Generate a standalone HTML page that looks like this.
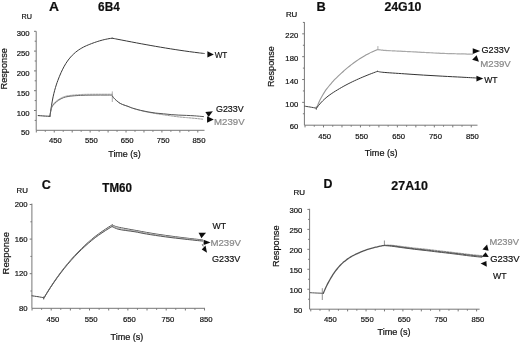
<!DOCTYPE html>
<html><head><meta charset="utf-8"><style>
html,body{margin:0;padding:0;background:#fff;}
body{width:520px;height:343px;overflow:hidden;}
svg{display:block;font-family:"Liberation Sans", sans-serif;}
</style></head><body>
<svg width="520" height="343" viewBox="0 0 520 343">
<defs><filter id="bl" x="0" y="0" width="520" height="343" filterUnits="userSpaceOnUse"><feGaussianBlur stdDeviation="0.35"/></filter></defs>
<rect width="520" height="343" fill="#fff"/>
<g filter="url(#bl)">
<line x1="36.2" y1="31.3" x2="36.2" y2="130.3" stroke="#777" stroke-width="1"/>
<line x1="36.2" y1="130.3" x2="204.5" y2="130.3" stroke="#777" stroke-width="1"/>
<line x1="34" y1="110.5" x2="36.2" y2="110.5" stroke="#777" stroke-width="1"/>
<line x1="34" y1="90.7" x2="36.2" y2="90.7" stroke="#777" stroke-width="1"/>
<line x1="34" y1="70.9" x2="36.2" y2="70.9" stroke="#777" stroke-width="1"/>
<line x1="34" y1="51.1" x2="36.2" y2="51.1" stroke="#777" stroke-width="1"/>
<line x1="34" y1="31.3" x2="36.2" y2="31.3" stroke="#777" stroke-width="1"/>
<line x1="34.7" y1="120.4" x2="36.2" y2="120.4" stroke="#777" stroke-width="1"/>
<line x1="34.7" y1="100.6" x2="36.2" y2="100.6" stroke="#777" stroke-width="1"/>
<line x1="34.7" y1="80.8" x2="36.2" y2="80.8" stroke="#777" stroke-width="1"/>
<line x1="34.7" y1="61" x2="36.2" y2="61" stroke="#777" stroke-width="1"/>
<line x1="34.7" y1="41.2" x2="36.2" y2="41.2" stroke="#777" stroke-width="1"/>
<line x1="36.3" y1="130.3" x2="36.3" y2="132.5" stroke="#777" stroke-width="1"/>
<line x1="45.28" y1="130.3" x2="45.28" y2="131.8" stroke="#777" stroke-width="1"/>
<line x1="54.25" y1="130.3" x2="54.25" y2="132.5" stroke="#777" stroke-width="1"/>
<line x1="63.22" y1="130.3" x2="63.22" y2="131.8" stroke="#777" stroke-width="1"/>
<line x1="72.19" y1="130.3" x2="72.19" y2="132.5" stroke="#777" stroke-width="1"/>
<line x1="81.17" y1="130.3" x2="81.17" y2="131.8" stroke="#777" stroke-width="1"/>
<line x1="90.14" y1="130.3" x2="90.14" y2="132.5" stroke="#777" stroke-width="1"/>
<line x1="99.11" y1="130.3" x2="99.11" y2="131.8" stroke="#777" stroke-width="1"/>
<line x1="108.09" y1="130.3" x2="108.09" y2="132.5" stroke="#777" stroke-width="1"/>
<line x1="117.06" y1="130.3" x2="117.06" y2="131.8" stroke="#777" stroke-width="1"/>
<line x1="126.03" y1="130.3" x2="126.03" y2="132.5" stroke="#777" stroke-width="1"/>
<line x1="135" y1="130.3" x2="135" y2="131.8" stroke="#777" stroke-width="1"/>
<line x1="143.97" y1="130.3" x2="143.97" y2="132.5" stroke="#777" stroke-width="1"/>
<line x1="152.95" y1="130.3" x2="152.95" y2="131.8" stroke="#777" stroke-width="1"/>
<line x1="161.92" y1="130.3" x2="161.92" y2="132.5" stroke="#777" stroke-width="1"/>
<line x1="170.89" y1="130.3" x2="170.89" y2="131.8" stroke="#777" stroke-width="1"/>
<line x1="179.87" y1="130.3" x2="179.87" y2="132.5" stroke="#777" stroke-width="1"/>
<line x1="188.84" y1="130.3" x2="188.84" y2="131.8" stroke="#777" stroke-width="1"/>
<line x1="197.81" y1="130.3" x2="197.81" y2="132.5" stroke="#777" stroke-width="1"/>
<text x="29.6" y="135.46" font-size="7.7" text-anchor="end" font-weight="normal" fill="#111" stroke="#111" stroke-width="0.2" >50</text>
<text x="29.6" y="115.66" font-size="7.7" text-anchor="end" font-weight="normal" fill="#111" stroke="#111" stroke-width="0.2" >100</text>
<text x="29.6" y="95.86" font-size="7.7" text-anchor="end" font-weight="normal" fill="#111" stroke="#111" stroke-width="0.2" >150</text>
<text x="29.6" y="76.06" font-size="7.7" text-anchor="end" font-weight="normal" fill="#111" stroke="#111" stroke-width="0.2" >200</text>
<text x="29.6" y="56.26" font-size="7.7" text-anchor="end" font-weight="normal" fill="#111" stroke="#111" stroke-width="0.2" >250</text>
<text x="29.6" y="36.46" font-size="7.7" text-anchor="end" font-weight="normal" fill="#111" stroke="#111" stroke-width="0.2" >300</text>
<text x="55.45" y="142.6" font-size="7.7" text-anchor="middle" font-weight="normal" fill="#111" stroke="#111" stroke-width="0.2" >450</text>
<text x="91.34" y="142.6" font-size="7.7" text-anchor="middle" font-weight="normal" fill="#111" stroke="#111" stroke-width="0.2" >550</text>
<text x="127.23" y="142.6" font-size="7.7" text-anchor="middle" font-weight="normal" fill="#111" stroke="#111" stroke-width="0.2" >650</text>
<text x="163.12" y="142.6" font-size="7.7" text-anchor="middle" font-weight="normal" fill="#111" stroke="#111" stroke-width="0.2" >750</text>
<text x="199.01" y="142.6" font-size="7.7" text-anchor="middle" font-weight="normal" fill="#111" stroke="#111" stroke-width="0.2" >850</text>
<text x="48.9" y="11.4" font-size="13.3" font-weight="bold" fill="#111" textLength="10.01" lengthAdjust="spacingAndGlyphs" stroke="#111" stroke-width="0.2">A</text>
<text x="98.12" y="10.88" font-size="12" font-weight="bold" fill="#111" textLength="21.7" lengthAdjust="spacingAndGlyphs" stroke="#111" stroke-width="0.2">6B4</text>
<text x="21.56" y="18.98" font-size="7" font-weight="normal" fill="#111" textLength="10.45" lengthAdjust="spacingAndGlyphs" stroke="#111" stroke-width="0.2">RU</text>
<text x="0" y="0" font-size="9.3" fill="#111" textLength="41.46" lengthAdjust="spacingAndGlyphs" transform="translate(7.35 89.51) rotate(-90)" stroke="#111" stroke-width="0.2">Response</text>
<text x="108.25" y="156.64" font-size="9" font-weight="normal" fill="#111" textLength="32.45" lengthAdjust="spacingAndGlyphs" stroke="#111" stroke-width="0.2">Time (s)</text>
<path d="M38.2,115.6 C39.17,115.67 42.05,115.88 44,116 C45.95,116.12 48.92,116.25 49.9,116.3" fill="none" stroke="#333" stroke-width="1" stroke-linejoin="round" stroke-linecap="round" />
<path d="M49.9,116.3 C50.17,114.54 50.96,108.96 51.5,105.73 C52.03,102.49 52.56,99.45 53.09,96.88 C53.63,94.3 54.16,92.27 54.69,90.28 C55.22,88.29 55.76,86.56 56.29,84.91 C56.82,83.26 57.35,81.8 57.89,80.37 C58.42,78.93 58.95,77.59 59.48,76.29 C60.02,74.99 60.55,73.75 61.08,72.57 C61.61,71.39 62.15,70.27 62.68,69.2 C63.21,68.14 63.74,67.13 64.28,66.17 C64.81,65.22 65.34,64.32 65.87,63.47 C66.41,62.62 66.94,61.83 67.47,61.07 C68,60.31 68.54,59.61 69.07,58.93 C69.6,58.26 70.13,57.63 70.67,57.03 C71.2,56.42 71.73,55.86 72.26,55.31 C72.8,54.77 73.33,54.26 73.86,53.77 C74.39,53.27 74.93,52.81 75.46,52.36 C75.99,51.92 76.52,51.5 77.06,51.1 C77.59,50.69 78.12,50.31 78.65,49.95 C79.19,49.58 79.72,49.24 80.25,48.91 C80.78,48.58 81.32,48.27 81.85,47.97 C82.38,47.67 82.91,47.38 83.45,47.11 C83.98,46.83 84.51,46.57 85.04,46.32 C85.58,46.07 86.11,45.83 86.64,45.59 C87.17,45.36 87.71,45.14 88.24,44.92 C88.77,44.69 89.3,44.48 89.84,44.27 C90.37,44.06 90.9,43.85 91.43,43.65 C91.97,43.45 92.5,43.25 93.03,43.05 C93.56,42.86 94.1,42.67 94.63,42.48 C95.16,42.29 95.69,42.11 96.23,41.93 C96.76,41.75 97.29,41.58 97.82,41.41 C98.36,41.24 98.89,41.08 99.42,40.92 C99.95,40.76 100.49,40.61 101.02,40.46 C101.55,40.31 102.08,40.17 102.62,40.03 C103.15,39.89 103.68,39.76 104.21,39.63 C104.75,39.51 105.28,39.39 105.81,39.27 C106.34,39.16 106.88,39.05 107.41,38.94 C107.94,38.84 108.47,38.75 109.01,38.66 C109.54,38.57 110.07,38.48 110.6,38.41 C111.14,38.33 111.93,38.23 112.2,38.2" fill="none" stroke="#383838" stroke-width="1" stroke-linejoin="round" stroke-linecap="round" />
<path d="M112.2,38.2 C113.01,38.36 115.43,38.83 117.04,39.15 C118.66,39.46 120.27,39.78 121.88,40.09 C123.5,40.41 125.11,40.72 126.73,41.03 C128.34,41.34 129.95,41.65 131.57,41.95 C133.18,42.26 134.8,42.56 136.41,42.87 C138.02,43.17 139.64,43.47 141.25,43.77 C142.87,44.07 144.48,44.36 146.09,44.65 C147.71,44.95 149.32,45.24 150.94,45.52 C152.55,45.81 154.16,46.09 155.78,46.37 C157.39,46.65 159.01,46.93 160.62,47.2 C162.24,47.47 163.85,47.74 165.46,48.01 C167.08,48.28 168.69,48.54 170.31,48.79 C171.92,49.05 173.53,49.31 175.15,49.55 C176.76,49.8 178.38,50.05 179.99,50.29 C181.6,50.53 183.22,50.76 184.83,50.99 C186.45,51.22 188.06,51.44 189.67,51.66 C191.29,51.88 192.9,52.1 194.52,52.31 C196.13,52.51 197.74,52.72 199.36,52.91 C200.97,53.11 203.39,53.39 204.2,53.49" fill="none" stroke="#383838" stroke-width="1" stroke-linejoin="round" stroke-linecap="round" />
<path d="M51.2,109.5 C51.53,108.63 52.28,105.75 53.2,104.3 C54.12,102.85 55.53,101.77 56.7,100.8 C57.87,99.83 59.03,99.17 60.2,98.5 C61.37,97.83 62.38,97.27 63.7,96.8 C65.02,96.33 66.35,96 68.1,95.7 C69.85,95.4 71.72,95.22 74.2,95 C76.68,94.78 79.53,94.53 83,94.4 C86.47,94.27 91.33,94.23 95,94.2 C98.67,94.17 102.13,94.2 105,94.2 C107.87,94.2 111,94.2 112.2,94.2" fill="none" stroke="#aaa" stroke-width="1" stroke-linejoin="round" stroke-linecap="round" stroke-dasharray="2 1"/>
<path d="M112.6,96.5 C112.73,96.67 113.02,97.07 113.4,97.5 C113.78,97.93 114,98.27 114.9,99.1 C115.8,99.93 117.52,101.6 118.8,102.5 C120.08,103.4 121.07,103.85 122.6,104.5 C124.13,105.15 126.32,105.78 128,106.4 C129.68,107.02 130.63,107.52 132.7,108.2 C134.77,108.88 137.83,109.83 140.4,110.5 C142.97,111.17 145.53,111.68 148.1,112.2 C150.67,112.72 153.23,113.17 155.8,113.6 C158.37,114.03 160.93,114.42 163.5,114.8 C166.07,115.18 168.65,115.55 171.2,115.9 C173.75,116.25 176.25,116.62 178.8,116.9 C181.35,117.18 183.93,117.37 186.5,117.6 C189.07,117.83 191.5,118.03 194.2,118.3 C196.9,118.57 201.28,119.05 202.7,119.2" fill="none" stroke="#999" stroke-width="1" stroke-linejoin="round" stroke-linecap="round" stroke-dasharray="2 1"/>
<path d="M49.9,116.3 C50.15,114.95 50.85,110.07 51.4,108.2 C51.95,106.33 52.32,106.2 53.2,105.1 C54.08,104 55.53,102.57 56.7,101.6 C57.87,100.63 59.03,99.97 60.2,99.3 C61.37,98.63 62.38,98.07 63.7,97.6 C65.02,97.13 66.35,96.8 68.1,96.5 C69.85,96.2 71.72,96 74.2,95.8 C76.68,95.6 79.53,95.42 83,95.3 C86.47,95.18 91.33,95.13 95,95.1 C98.67,95.07 102.13,95.1 105,95.1 C107.87,95.1 111,95.1 112.2,95.1" fill="none" stroke="#666" stroke-width="1" stroke-linejoin="round" stroke-linecap="round" />
<line x1="112.3" y1="91.4" x2="112.3" y2="102" stroke="#999" stroke-width="0.8"/>
<path d="M112.4,96 C112.57,96.25 112.98,96.98 113.4,97.5 C113.82,98.02 114,98.27 114.9,99.1 C115.8,99.93 117.52,101.6 118.8,102.5 C120.08,103.4 121.07,103.85 122.6,104.5 C124.13,105.15 126.32,105.78 128,106.4 C129.68,107.02 130.63,107.55 132.7,108.2 C134.77,108.85 137.83,109.68 140.4,110.3 C142.97,110.92 145.53,111.43 148.1,111.9 C150.67,112.37 153.23,112.78 155.8,113.1 C158.37,113.42 160.93,113.55 163.5,113.8 C166.07,114.05 168.65,114.38 171.2,114.6 C173.75,114.82 176.25,114.97 178.8,115.1 C181.35,115.23 183.93,115.28 186.5,115.4 C189.07,115.52 191.37,115.6 194.2,115.8 C197.03,116 201.95,116.47 203.5,116.6" fill="none" stroke="#555" stroke-width="1" stroke-linejoin="round" stroke-linecap="round" />
<polygon points="207.37,51.33 213.86,54.51 207.37,57.46" fill="#111"/>
<text x="214.71" y="57.95" font-size="9.4" font-weight="normal" fill="#111" textLength="12.62" lengthAdjust="spacingAndGlyphs" stroke="#111" stroke-width="0.2">WT</text>
<polygon points="205.35,111.98 212.79,111.27 208.66,117.05" fill="#111"/>
<text x="216" y="111.76" font-size="9.4" font-weight="normal" fill="#111" textLength="27.69" lengthAdjust="spacingAndGlyphs" stroke="#111" stroke-width="0.2">G233V</text>
<polygon points="207.06,116.31 213.78,119.38 207.06,122.8" fill="#111"/>
<text x="214.06" y="125.16" font-size="9.4" font-weight="normal" fill="#888" textLength="30.53" lengthAdjust="spacingAndGlyphs" stroke="#888" stroke-width="0.2">M239V</text>
<line x1="304.4" y1="22.1" x2="304.4" y2="125.2" stroke="#777" stroke-width="1"/>
<line x1="304.4" y1="125.2" x2="477.5" y2="125.2" stroke="#777" stroke-width="1"/>
<line x1="302.2" y1="102.36" x2="304.4" y2="102.36" stroke="#777" stroke-width="1"/>
<line x1="302.2" y1="79.52" x2="304.4" y2="79.52" stroke="#777" stroke-width="1"/>
<line x1="302.2" y1="56.68" x2="304.4" y2="56.68" stroke="#777" stroke-width="1"/>
<line x1="302.2" y1="33.84" x2="304.4" y2="33.84" stroke="#777" stroke-width="1"/>
<line x1="302.9" y1="113.78" x2="304.4" y2="113.78" stroke="#777" stroke-width="1"/>
<line x1="302.9" y1="90.94" x2="304.4" y2="90.94" stroke="#777" stroke-width="1"/>
<line x1="302.9" y1="68.1" x2="304.4" y2="68.1" stroke="#777" stroke-width="1"/>
<line x1="302.9" y1="45.26" x2="304.4" y2="45.26" stroke="#777" stroke-width="1"/>
<line x1="302.9" y1="22.42" x2="304.4" y2="22.42" stroke="#777" stroke-width="1"/>
<line x1="305.03" y1="125.2" x2="305.03" y2="127.4" stroke="#777" stroke-width="1"/>
<line x1="314.26" y1="125.2" x2="314.26" y2="126.7" stroke="#777" stroke-width="1"/>
<line x1="323.5" y1="125.2" x2="323.5" y2="127.4" stroke="#777" stroke-width="1"/>
<line x1="332.74" y1="125.2" x2="332.74" y2="126.7" stroke="#777" stroke-width="1"/>
<line x1="341.97" y1="125.2" x2="341.97" y2="127.4" stroke="#777" stroke-width="1"/>
<line x1="351.2" y1="125.2" x2="351.2" y2="126.7" stroke="#777" stroke-width="1"/>
<line x1="360.44" y1="125.2" x2="360.44" y2="127.4" stroke="#777" stroke-width="1"/>
<line x1="369.68" y1="125.2" x2="369.68" y2="126.7" stroke="#777" stroke-width="1"/>
<line x1="378.91" y1="125.2" x2="378.91" y2="127.4" stroke="#777" stroke-width="1"/>
<line x1="388.14" y1="125.2" x2="388.14" y2="126.7" stroke="#777" stroke-width="1"/>
<line x1="397.38" y1="125.2" x2="397.38" y2="127.4" stroke="#777" stroke-width="1"/>
<line x1="406.62" y1="125.2" x2="406.62" y2="126.7" stroke="#777" stroke-width="1"/>
<line x1="415.85" y1="125.2" x2="415.85" y2="127.4" stroke="#777" stroke-width="1"/>
<line x1="425.09" y1="125.2" x2="425.09" y2="126.7" stroke="#777" stroke-width="1"/>
<line x1="434.32" y1="125.2" x2="434.32" y2="127.4" stroke="#777" stroke-width="1"/>
<line x1="443.56" y1="125.2" x2="443.56" y2="126.7" stroke="#777" stroke-width="1"/>
<line x1="452.79" y1="125.2" x2="452.79" y2="127.4" stroke="#777" stroke-width="1"/>
<line x1="462.02" y1="125.2" x2="462.02" y2="126.7" stroke="#777" stroke-width="1"/>
<line x1="471.26" y1="125.2" x2="471.26" y2="127.4" stroke="#777" stroke-width="1"/>
<text x="298.2" y="129.46" font-size="7.7" text-anchor="end" font-weight="normal" fill="#111" stroke="#111" stroke-width="0.2" >60</text>
<text x="298.2" y="106.62" font-size="7.7" text-anchor="end" font-weight="normal" fill="#111" stroke="#111" stroke-width="0.2" >100</text>
<text x="298.2" y="83.78" font-size="7.7" text-anchor="end" font-weight="normal" fill="#111" stroke="#111" stroke-width="0.2" >140</text>
<text x="298.2" y="60.94" font-size="7.7" text-anchor="end" font-weight="normal" fill="#111" stroke="#111" stroke-width="0.2" >180</text>
<text x="298.2" y="38.1" font-size="7.7" text-anchor="end" font-weight="normal" fill="#111" stroke="#111" stroke-width="0.2" >220</text>
<text x="324.7" y="138.9" font-size="7.7" text-anchor="middle" font-weight="normal" fill="#111" stroke="#111" stroke-width="0.2" >450</text>
<text x="361.64" y="138.9" font-size="7.7" text-anchor="middle" font-weight="normal" fill="#111" stroke="#111" stroke-width="0.2" >550</text>
<text x="398.58" y="138.9" font-size="7.7" text-anchor="middle" font-weight="normal" fill="#111" stroke="#111" stroke-width="0.2" >650</text>
<text x="435.52" y="138.9" font-size="7.7" text-anchor="middle" font-weight="normal" fill="#111" stroke="#111" stroke-width="0.2" >750</text>
<text x="472.46" y="138.9" font-size="7.7" text-anchor="middle" font-weight="normal" fill="#111" stroke="#111" stroke-width="0.2" >850</text>
<text x="316.39" y="10.55" font-size="13.3" font-weight="bold" fill="#111" textLength="9.24" lengthAdjust="spacingAndGlyphs" stroke="#111" stroke-width="0.2">B</text>
<text x="384.42" y="10.73" font-size="12" font-weight="bold" fill="#111" textLength="37.03" lengthAdjust="spacingAndGlyphs" stroke="#111" stroke-width="0.2">24G10</text>
<text x="285.9" y="16.68" font-size="7" font-weight="normal" fill="#111" textLength="11.46" lengthAdjust="spacingAndGlyphs" stroke="#111" stroke-width="0.2">RU</text>
<text x="0" y="0" font-size="9.3" fill="#111" textLength="40.74" lengthAdjust="spacingAndGlyphs" transform="translate(273.85 86.99) rotate(-90)" stroke="#111" stroke-width="0.2">Response</text>
<text x="364.65" y="155.99" font-size="9" font-weight="normal" fill="#111" textLength="32.86" lengthAdjust="spacingAndGlyphs" stroke="#111" stroke-width="0.2">Time (s)</text>
<path d="M304.8,106.2 C305.67,106.33 308.07,106.67 310,107 C311.93,107.33 315.33,108 316.4,108.2" fill="none" stroke="#444" stroke-width="1" stroke-linejoin="round" stroke-linecap="round" />
<line x1="316.3" y1="106.5" x2="316.3" y2="109.8" stroke="#444" stroke-width="0.8"/>
<path d="M316.4,108.37 C316.75,107.5 317.8,104.78 318.5,103.17 C319.2,101.57 319.91,100.1 320.61,98.73 C321.31,97.35 322.01,96.1 322.71,94.91 C323.41,93.72 324.11,92.63 324.81,91.6 C325.51,90.56 326.22,89.6 326.92,88.67 C327.62,87.74 328.32,86.87 329.02,86.01 C329.72,85.15 330.42,84.33 331.12,83.52 C331.83,82.72 332.53,81.94 333.23,81.18 C333.93,80.42 334.63,79.68 335.33,78.96 C336.03,78.24 336.73,77.53 337.43,76.85 C338.14,76.16 338.84,75.48 339.54,74.82 C340.24,74.16 340.94,73.51 341.64,72.87 C342.34,72.23 343.04,71.6 343.74,70.98 C344.45,70.37 345.15,69.76 345.85,69.17 C346.55,68.57 347.25,67.99 347.95,67.41 C348.65,66.84 349.35,66.28 350.06,65.73 C350.76,65.17 351.46,64.63 352.16,64.1 C352.86,63.57 353.56,63.05 354.26,62.55 C354.96,62.04 355.66,61.54 356.37,61.05 C357.07,60.57 357.77,60.09 358.47,59.62 C359.17,59.16 359.87,58.7 360.57,58.26 C361.27,57.82 361.97,57.38 362.68,56.96 C363.38,56.54 364.08,56.12 364.78,55.72 C365.48,55.32 366.18,54.93 366.88,54.55 C367.58,54.17 368.29,53.79 368.99,53.43 C369.69,53.07 370.39,52.72 371.09,52.38 C371.79,52.04 372.49,51.72 373.19,51.4 C373.89,51.08 374.6,50.77 375.3,50.47 C376,50.17 377.05,49.75 377.4,49.6" fill="none" stroke="#999" stroke-width="1.1" stroke-linejoin="round" stroke-linecap="round" />
<line x1="377.9" y1="46.1" x2="377.9" y2="49.6" stroke="#999" stroke-width="0.8"/>
<path d="M377.4,49.6 C378.32,49.7 381.63,50.07 382.9,50.2 C384.17,50.33 381.45,50.2 385,50.4 C388.55,50.6 397.78,51.07 404.2,51.4 C410.62,51.73 417.08,52.07 423.5,52.4 C429.92,52.73 436.3,53.15 442.7,53.4 C449.1,53.65 456.93,53.77 461.9,53.9 C466.87,54.03 470.73,54.15 472.5,54.2" fill="none" stroke="#a8a8a8" stroke-width="1.2" stroke-linejoin="round" stroke-linecap="round" stroke-dasharray="3 0.8"/>
<path d="M316.4,108.37 C316.75,107.9 317.81,106.43 318.51,105.54 C319.21,104.65 319.92,103.82 320.62,103.03 C321.32,102.24 322.03,101.5 322.73,100.79 C323.43,100.09 324.14,99.43 324.84,98.8 C325.54,98.16 326.25,97.57 326.95,97 C327.66,96.43 328.36,95.9 329.06,95.38 C329.77,94.86 330.47,94.36 331.17,93.88 C331.88,93.4 332.58,92.94 333.28,92.48 C333.99,92.02 334.69,91.57 335.39,91.13 C336.1,90.69 336.8,90.26 337.5,89.83 C338.21,89.41 338.91,88.99 339.61,88.57 C340.32,88.16 341.02,87.75 341.72,87.35 C342.43,86.95 343.13,86.56 343.83,86.17 C344.54,85.79 345.24,85.41 345.94,85.03 C346.65,84.65 347.35,84.29 348.06,83.92 C348.76,83.56 349.46,83.2 350.17,82.85 C350.87,82.5 351.57,82.15 352.28,81.81 C352.98,81.47 353.68,81.13 354.39,80.8 C355.09,80.47 355.79,80.14 356.5,79.82 C357.2,79.49 357.9,79.18 358.61,78.86 C359.31,78.55 360.01,78.24 360.72,77.94 C361.42,77.63 362.12,77.33 362.83,77.04 C363.53,76.74 364.23,76.45 364.94,76.16 C365.64,75.87 366.34,75.58 367.05,75.3 C367.75,75.02 368.46,74.74 369.16,74.46 C369.86,74.19 370.57,73.92 371.27,73.65 C371.97,73.38 372.68,73.11 373.38,72.85 C374.08,72.58 374.79,72.32 375.49,72.06 C376.19,71.8 377.25,71.42 377.6,71.29" fill="none" stroke="#383838" stroke-width="1" stroke-linejoin="round" stroke-linecap="round" />
<path d="M377.6,71.3 C378.48,71.47 378.47,71.88 382.9,72.3 C387.33,72.72 397.43,73.33 404.2,73.8 C410.97,74.27 417.08,74.7 423.5,75.1 C429.92,75.5 436.3,75.85 442.7,76.2 C449.1,76.55 456.27,76.9 461.9,77.2 C467.53,77.5 474.07,77.87 476.5,78" fill="none" stroke="#333" stroke-width="1" stroke-linejoin="round" stroke-linecap="round" />
<polygon points="472.72,48.26 480.16,51.09 472.72,54.04" fill="#111"/>
<text x="481.59" y="53.46" font-size="9.4" font-weight="normal" fill="#111" textLength="28.2" lengthAdjust="spacingAndGlyphs" stroke="#111" stroke-width="0.2">G233V</text>
<polygon points="476.61,55.14 472.12,59.63 478.97,61.63" fill="#111"/>
<text x="480.26" y="66.76" font-size="9.4" font-weight="normal" fill="#888" textLength="30.53" lengthAdjust="spacingAndGlyphs" stroke="#888" stroke-width="0.2">M239V</text>
<polygon points="476.45,75.77 483.3,78.49 476.45,81.44" fill="#111"/>
<text x="484.21" y="82.95" font-size="9.4" font-weight="normal" fill="#111" textLength="13.33" lengthAdjust="spacingAndGlyphs" stroke="#111" stroke-width="0.2">WT</text>
<line x1="31.9" y1="203.6" x2="31.9" y2="308.3" stroke="#777" stroke-width="1"/>
<line x1="31.9" y1="308.3" x2="205" y2="308.3" stroke="#777" stroke-width="1"/>
<line x1="29.7" y1="273.7" x2="31.9" y2="273.7" stroke="#777" stroke-width="1"/>
<line x1="29.7" y1="239.1" x2="31.9" y2="239.1" stroke="#777" stroke-width="1"/>
<line x1="29.7" y1="204.5" x2="31.9" y2="204.5" stroke="#777" stroke-width="1"/>
<line x1="30.4" y1="291" x2="31.9" y2="291" stroke="#777" stroke-width="1"/>
<line x1="30.4" y1="256.4" x2="31.9" y2="256.4" stroke="#777" stroke-width="1"/>
<line x1="30.4" y1="221.8" x2="31.9" y2="221.8" stroke="#777" stroke-width="1"/>
<line x1="32.04" y1="308.3" x2="32.04" y2="310.5" stroke="#777" stroke-width="1"/>
<line x1="41.62" y1="308.3" x2="41.62" y2="309.8" stroke="#777" stroke-width="1"/>
<line x1="51.2" y1="308.3" x2="51.2" y2="310.5" stroke="#777" stroke-width="1"/>
<line x1="60.78" y1="308.3" x2="60.78" y2="309.8" stroke="#777" stroke-width="1"/>
<line x1="70.37" y1="308.3" x2="70.37" y2="310.5" stroke="#777" stroke-width="1"/>
<line x1="79.95" y1="308.3" x2="79.95" y2="309.8" stroke="#777" stroke-width="1"/>
<line x1="89.53" y1="308.3" x2="89.53" y2="310.5" stroke="#777" stroke-width="1"/>
<line x1="99.11" y1="308.3" x2="99.11" y2="309.8" stroke="#777" stroke-width="1"/>
<line x1="108.69" y1="308.3" x2="108.69" y2="310.5" stroke="#777" stroke-width="1"/>
<line x1="118.28" y1="308.3" x2="118.28" y2="309.8" stroke="#777" stroke-width="1"/>
<line x1="127.86" y1="308.3" x2="127.86" y2="310.5" stroke="#777" stroke-width="1"/>
<line x1="137.44" y1="308.3" x2="137.44" y2="309.8" stroke="#777" stroke-width="1"/>
<line x1="147.02" y1="308.3" x2="147.02" y2="310.5" stroke="#777" stroke-width="1"/>
<line x1="156.61" y1="308.3" x2="156.61" y2="309.8" stroke="#777" stroke-width="1"/>
<line x1="166.19" y1="308.3" x2="166.19" y2="310.5" stroke="#777" stroke-width="1"/>
<line x1="175.77" y1="308.3" x2="175.77" y2="309.8" stroke="#777" stroke-width="1"/>
<line x1="185.36" y1="308.3" x2="185.36" y2="310.5" stroke="#777" stroke-width="1"/>
<line x1="194.94" y1="308.3" x2="194.94" y2="309.8" stroke="#777" stroke-width="1"/>
<line x1="204.52" y1="308.3" x2="204.52" y2="310.5" stroke="#777" stroke-width="1"/>
<text x="27.6" y="311.06" font-size="7.7" text-anchor="end" font-weight="normal" fill="#111" stroke="#111" stroke-width="0.2" >80</text>
<text x="27.6" y="276.46" font-size="7.7" text-anchor="end" font-weight="normal" fill="#111" stroke="#111" stroke-width="0.2" >120</text>
<text x="27.6" y="241.86" font-size="7.7" text-anchor="end" font-weight="normal" fill="#111" stroke="#111" stroke-width="0.2" >160</text>
<text x="27.6" y="207.26" font-size="7.7" text-anchor="end" font-weight="normal" fill="#111" stroke="#111" stroke-width="0.2" >200</text>
<text x="52.8" y="321.6" font-size="7.7" text-anchor="middle" font-weight="normal" fill="#111" stroke="#111" stroke-width="0.2" >450</text>
<text x="91.13" y="321.6" font-size="7.7" text-anchor="middle" font-weight="normal" fill="#111" stroke="#111" stroke-width="0.2" >550</text>
<text x="129.46" y="321.6" font-size="7.7" text-anchor="middle" font-weight="normal" fill="#111" stroke="#111" stroke-width="0.2" >650</text>
<text x="167.79" y="321.6" font-size="7.7" text-anchor="middle" font-weight="normal" fill="#111" stroke="#111" stroke-width="0.2" >750</text>
<text x="206.12" y="321.6" font-size="7.7" text-anchor="middle" font-weight="normal" fill="#111" stroke="#111" stroke-width="0.2" >850</text>
<text x="41.64" y="188.67" font-size="13.3" font-weight="bold" fill="#111" textLength="9.06" lengthAdjust="spacingAndGlyphs" stroke="#111" stroke-width="0.2">C</text>
<text x="102.32" y="192.03" font-size="12" font-weight="bold" fill="#111" textLength="29.71" lengthAdjust="spacingAndGlyphs" stroke="#111" stroke-width="0.2">TM60</text>
<text x="16.61" y="192.98" font-size="7" font-weight="normal" fill="#111" textLength="11.35" lengthAdjust="spacingAndGlyphs" stroke="#111" stroke-width="0.2">RU</text>
<text x="0" y="0" font-size="9.3" fill="#111" textLength="42.39" lengthAdjust="spacingAndGlyphs" transform="translate(9.05 274.42) rotate(-90)" stroke="#111" stroke-width="0.2">Response</text>
<text x="110.45" y="339.79" font-size="9" font-weight="normal" fill="#111" textLength="32.96" lengthAdjust="spacingAndGlyphs" stroke="#111" stroke-width="0.2">Time (s)</text>
<path d="M32,295.8 C33,295.95 36.05,296.38 38,296.7 C39.95,297.02 42.75,297.53 43.7,297.7" fill="none" stroke="#444" stroke-width="1" stroke-linejoin="round" stroke-linecap="round" />
<line x1="43.7" y1="296.5" x2="43.7" y2="299.5" stroke="#444" stroke-width="0.8"/>
<path d="M43.7,298.2 C44.27,297.24 45.99,294.34 47.13,292.47 C48.27,290.61 49.42,288.8 50.56,287.02 C51.7,285.25 52.85,283.52 53.99,281.84 C55.13,280.15 56.28,278.51 57.42,276.91 C58.56,275.3 59.71,273.74 60.85,272.22 C61.99,270.69 63.14,269.21 64.28,267.76 C65.42,266.32 66.57,264.91 67.71,263.53 C68.85,262.15 70,260.82 71.14,259.51 C72.28,258.2 73.43,256.93 74.57,255.69 C75.71,254.45 76.86,253.24 78,252.06 C79.14,250.88 80.29,249.74 81.43,248.61 C82.57,247.49 83.72,246.4 84.86,245.34 C86,244.27 87.15,243.23 88.29,242.22 C89.43,241.2 90.58,240.22 91.72,239.25 C92.86,238.29 94.01,237.32 95.15,236.43 C96.29,235.53 97.44,234.71 98.58,233.89 C99.72,233.06 100.87,232.25 102.01,231.46 C103.15,230.67 104.3,229.9 105.44,229.14 C106.58,228.39 107.73,227.65 108.87,226.92 C110.01,226.2 111.73,225.14 112.3,224.79" fill="none" stroke="#555" stroke-width="1" stroke-linejoin="round" stroke-linecap="round" />
<path d="M43.7,298.35 C44.27,297.4 45.99,294.51 47.13,292.66 C48.27,290.8 49.42,289 50.56,287.24 C51.7,285.48 52.85,283.76 53.99,282.09 C55.13,280.41 56.28,278.78 57.42,277.19 C58.56,275.59 59.71,274.04 60.85,272.53 C61.99,271.02 63.14,269.55 64.28,268.11 C65.42,266.67 66.57,265.27 67.71,263.91 C68.85,262.54 70,261.22 71.14,259.92 C72.28,258.62 73.43,257.36 74.57,256.13 C75.71,254.9 76.86,253.71 78,252.54 C79.14,251.37 80.29,250.23 81.43,249.12 C82.57,248.01 83.72,246.93 84.86,245.88 C86,244.82 87.15,243.8 88.29,242.79 C89.43,241.79 90.58,240.81 91.72,239.86 C92.86,238.9 94.01,237.95 95.15,237.07 C96.29,236.18 97.44,235.37 98.58,234.56 C99.72,233.74 100.87,232.94 102.01,232.16 C103.15,231.38 104.3,230.62 105.44,229.88 C106.58,229.13 107.73,228.4 108.87,227.69 C110.01,226.97 111.73,225.94 112.3,225.59" fill="none" stroke="#aaa" stroke-width="0.8" stroke-linejoin="round" stroke-linecap="round" />
<path d="M43.7,298.5 C44.27,297.55 45.99,294.68 47.13,292.84 C48.27,291 49.42,289.2 50.56,287.45 C51.7,285.7 52.85,284 53.99,282.33 C55.13,280.67 56.28,279.05 57.42,277.47 C58.56,275.89 59.71,274.35 60.85,272.84 C61.99,271.34 63.14,269.88 64.28,268.45 C65.42,267.03 66.57,265.64 67.71,264.29 C68.85,262.93 70,261.61 71.14,260.33 C72.28,259.04 73.43,257.8 74.57,256.58 C75.71,255.36 76.86,254.17 78,253.01 C79.14,251.85 80.29,250.73 81.43,249.63 C82.57,248.53 83.72,247.46 84.86,246.42 C86,245.37 87.15,244.36 88.29,243.36 C89.43,242.37 90.58,241.4 91.72,240.46 C92.86,239.52 94.01,238.58 95.15,237.7 C96.29,236.83 97.44,236.03 98.58,235.23 C99.72,234.42 100.87,233.63 102.01,232.87 C103.15,232.1 104.3,231.35 105.44,230.61 C106.58,229.88 107.73,229.16 108.87,228.46 C110.01,227.75 111.73,226.73 112.3,226.39" fill="none" stroke="#555" stroke-width="1" stroke-linejoin="round" stroke-linecap="round" />
<path d="M112.3,225.1 C112.75,225.28 114.03,225.87 115,226.2 C115.97,226.53 116.3,226.7 118.1,227.1 C119.9,227.5 122.68,228.02 125.8,228.6 C128.92,229.18 133.35,229.97 136.8,230.6 C140.25,231.23 143.28,231.83 146.5,232.4 C149.72,232.97 152.9,233.5 156.1,234 C159.3,234.5 162.5,234.95 165.7,235.4 C168.9,235.85 172.1,236.28 175.3,236.7 C178.5,237.12 181.7,237.52 184.9,237.9 C188.1,238.28 191.57,238.67 194.5,239 C197.43,239.33 201.17,239.75 202.5,239.9" fill="none" stroke="#555" stroke-width="1" stroke-linejoin="round" stroke-linecap="round" />
<path d="M112.3,225.9 C113.27,226.28 115.85,227.58 118.1,228.2 C120.35,228.82 122.68,229.07 125.8,229.6 C128.92,230.13 133.35,230.8 136.8,231.4 C140.25,232 141.68,232.42 146.5,233.2 C151.32,233.98 159.3,235.22 165.7,236.1 C172.1,236.98 178.77,237.77 184.9,238.5 C191.03,239.23 199.57,240.17 202.5,240.5" fill="none" stroke="#b0b0b0" stroke-width="1" stroke-linejoin="round" stroke-linecap="round" />
<path d="M112.3,226.7 C113.27,227.12 115.85,228.57 118.1,229.2 C120.35,229.83 122.98,230.07 125.8,230.5 C128.62,230.93 131.55,231.22 135,231.8 C138.45,232.38 141.38,233.15 146.5,234 C151.62,234.85 159.3,236.03 165.7,236.9 C172.1,237.77 178.77,238.5 184.9,239.2 C191.03,239.9 199.57,240.78 202.5,241.1" fill="none" stroke="#555" stroke-width="1" stroke-linejoin="round" stroke-linecap="round" />
<polygon points="198.58,232.82 206.01,232.82 201.41,238.36" fill="#111"/>
<text x="212.51" y="228.65" font-size="9.4" font-weight="normal" fill="#111" textLength="13.54" lengthAdjust="spacingAndGlyphs" stroke="#111" stroke-width="0.2">WT</text>
<polygon points="203.65,239.68 210.61,242.51 203.65,245.11" fill="#111"/>
<text x="210.46" y="245.56" font-size="9.4" font-weight="normal" fill="#888" textLength="30.53" lengthAdjust="spacingAndGlyphs" stroke="#888" stroke-width="0.2">M239V</text>
<line x1="202.2" y1="244.2" x2="203.3" y2="246.4" stroke="#333" stroke-width="0.8"/>
<polygon points="205.51,245.53 201.74,249.42 207.05,252.85" fill="#111"/>
<text x="212.1" y="262.36" font-size="9.4" font-weight="normal" fill="#111" textLength="28.09" lengthAdjust="spacingAndGlyphs" stroke="#111" stroke-width="0.2">G233V</text>
<line x1="309.6" y1="208.8" x2="309.6" y2="309.2" stroke="#777" stroke-width="1"/>
<line x1="309.6" y1="309.2" x2="479.6" y2="309.2" stroke="#777" stroke-width="1"/>
<line x1="307.4" y1="289.24" x2="309.6" y2="289.24" stroke="#777" stroke-width="1"/>
<line x1="307.4" y1="269.28" x2="309.6" y2="269.28" stroke="#777" stroke-width="1"/>
<line x1="307.4" y1="249.32" x2="309.6" y2="249.32" stroke="#777" stroke-width="1"/>
<line x1="307.4" y1="229.36" x2="309.6" y2="229.36" stroke="#777" stroke-width="1"/>
<line x1="307.4" y1="209.4" x2="309.6" y2="209.4" stroke="#777" stroke-width="1"/>
<line x1="308.1" y1="299.22" x2="309.6" y2="299.22" stroke="#777" stroke-width="1"/>
<line x1="308.1" y1="279.26" x2="309.6" y2="279.26" stroke="#777" stroke-width="1"/>
<line x1="308.1" y1="259.3" x2="309.6" y2="259.3" stroke="#777" stroke-width="1"/>
<line x1="308.1" y1="239.34" x2="309.6" y2="239.34" stroke="#777" stroke-width="1"/>
<line x1="308.1" y1="219.38" x2="309.6" y2="219.38" stroke="#777" stroke-width="1"/>
<line x1="310.77" y1="309.2" x2="310.77" y2="311.4" stroke="#777" stroke-width="1"/>
<line x1="319.99" y1="309.2" x2="319.99" y2="310.7" stroke="#777" stroke-width="1"/>
<line x1="329.2" y1="309.2" x2="329.2" y2="311.4" stroke="#777" stroke-width="1"/>
<line x1="338.41" y1="309.2" x2="338.41" y2="310.7" stroke="#777" stroke-width="1"/>
<line x1="347.62" y1="309.2" x2="347.62" y2="311.4" stroke="#777" stroke-width="1"/>
<line x1="356.84" y1="309.2" x2="356.84" y2="310.7" stroke="#777" stroke-width="1"/>
<line x1="366.05" y1="309.2" x2="366.05" y2="311.4" stroke="#777" stroke-width="1"/>
<line x1="375.26" y1="309.2" x2="375.26" y2="310.7" stroke="#777" stroke-width="1"/>
<line x1="384.47" y1="309.2" x2="384.47" y2="311.4" stroke="#777" stroke-width="1"/>
<line x1="393.69" y1="309.2" x2="393.69" y2="310.7" stroke="#777" stroke-width="1"/>
<line x1="402.9" y1="309.2" x2="402.9" y2="311.4" stroke="#777" stroke-width="1"/>
<line x1="412.11" y1="309.2" x2="412.11" y2="310.7" stroke="#777" stroke-width="1"/>
<line x1="421.32" y1="309.2" x2="421.32" y2="311.4" stroke="#777" stroke-width="1"/>
<line x1="430.54" y1="309.2" x2="430.54" y2="310.7" stroke="#777" stroke-width="1"/>
<line x1="439.75" y1="309.2" x2="439.75" y2="311.4" stroke="#777" stroke-width="1"/>
<line x1="448.96" y1="309.2" x2="448.96" y2="310.7" stroke="#777" stroke-width="1"/>
<line x1="458.17" y1="309.2" x2="458.17" y2="311.4" stroke="#777" stroke-width="1"/>
<line x1="467.39" y1="309.2" x2="467.39" y2="310.7" stroke="#777" stroke-width="1"/>
<line x1="476.6" y1="309.2" x2="476.6" y2="311.4" stroke="#777" stroke-width="1"/>
<text x="302.4" y="312.96" font-size="7.7" text-anchor="end" font-weight="normal" fill="#111" stroke="#111" stroke-width="0.2" >50</text>
<text x="302.4" y="293" font-size="7.7" text-anchor="end" font-weight="normal" fill="#111" stroke="#111" stroke-width="0.2" >100</text>
<text x="302.4" y="273.04" font-size="7.7" text-anchor="end" font-weight="normal" fill="#111" stroke="#111" stroke-width="0.2" >150</text>
<text x="302.4" y="253.08" font-size="7.7" text-anchor="end" font-weight="normal" fill="#111" stroke="#111" stroke-width="0.2" >200</text>
<text x="302.4" y="233.12" font-size="7.7" text-anchor="end" font-weight="normal" fill="#111" stroke="#111" stroke-width="0.2" >250</text>
<text x="302.4" y="213.16" font-size="7.7" text-anchor="end" font-weight="normal" fill="#111" stroke="#111" stroke-width="0.2" >300</text>
<text x="330.4" y="321.7" font-size="7.7" text-anchor="middle" font-weight="normal" fill="#111" stroke="#111" stroke-width="0.2" >450</text>
<text x="367.25" y="321.7" font-size="7.7" text-anchor="middle" font-weight="normal" fill="#111" stroke="#111" stroke-width="0.2" >550</text>
<text x="404.1" y="321.7" font-size="7.7" text-anchor="middle" font-weight="normal" fill="#111" stroke="#111" stroke-width="0.2" >650</text>
<text x="440.95" y="321.7" font-size="7.7" text-anchor="middle" font-weight="normal" fill="#111" stroke="#111" stroke-width="0.2" >750</text>
<text x="477.8" y="321.7" font-size="7.7" text-anchor="middle" font-weight="normal" fill="#111" stroke="#111" stroke-width="0.2" >850</text>
<text x="323.42" y="188.45" font-size="13.3" font-weight="bold" fill="#111" textLength="8.95" lengthAdjust="spacingAndGlyphs" stroke="#111" stroke-width="0.2">D</text>
<text x="391.32" y="189.53" font-size="12" font-weight="bold" fill="#111" textLength="36.64" lengthAdjust="spacingAndGlyphs" stroke="#111" stroke-width="0.2">27A10</text>
<text x="293.49" y="194.78" font-size="7" font-weight="normal" fill="#111" textLength="11.58" lengthAdjust="spacingAndGlyphs" stroke="#111" stroke-width="0.2">RU</text>
<text x="0" y="0" font-size="9.3" fill="#111" textLength="41.57" lengthAdjust="spacingAndGlyphs" transform="translate(278.85 267.01) rotate(-90)" stroke="#111" stroke-width="0.2">Response</text>
<text x="377.45" y="334.59" font-size="9" font-weight="normal" fill="#111" textLength="33.16" lengthAdjust="spacingAndGlyphs" stroke="#111" stroke-width="0.2">Time (s)</text>
<path d="M310.2,292.7 C311.17,292.75 313.82,292.9 316,293 C318.18,293.1 322.08,293.25 323.3,293.3" fill="none" stroke="#555" stroke-width="1" stroke-linejoin="round" stroke-linecap="round" />
<line x1="322.3" y1="288.2" x2="322.3" y2="300" stroke="#777" stroke-width="0.8"/>
<path d="M323.3,293.29 C323.59,292.62 324.46,290.57 325.05,289.28 C325.63,288 326.21,286.76 326.79,285.57 C327.37,284.38 327.96,283.24 328.54,282.14 C329.12,281.05 329.7,279.99 330.28,278.98 C330.86,277.97 331.45,277 332.03,276.07 C332.61,275.14 333.19,274.25 333.77,273.4 C334.36,272.54 334.94,271.73 335.52,270.95 C336.1,270.17 336.68,269.42 337.27,268.71 C337.85,268 338.43,267.32 339.01,266.67 C339.59,266.02 340.18,265.4 340.76,264.8 C341.34,264.21 341.92,263.65 342.5,263.11 C343.08,262.57 343.67,262.06 344.25,261.57 C344.83,261.08 345.41,260.61 345.99,260.16 C346.58,259.72 347.16,259.29 347.74,258.89 C348.32,258.48 348.9,258.09 349.49,257.72 C350.07,257.35 350.65,256.99 351.23,256.65 C351.81,256.3 352.4,255.98 352.98,255.66 C353.56,255.34 354.14,255.03 354.72,254.74 C355.3,254.44 355.89,254.15 356.47,253.87 C357.05,253.59 357.63,253.32 358.21,253.06 C358.8,252.79 359.38,252.54 359.96,252.29 C360.54,252.05 361.12,251.81 361.71,251.58 C362.29,251.34 362.87,251.12 363.45,250.9 C364.03,250.69 364.62,250.48 365.2,250.27 C365.78,250.07 366.36,249.87 366.94,249.68 C367.52,249.49 368.11,249.3 368.69,249.12 C369.27,248.94 369.85,248.77 370.43,248.6 C371.02,248.43 371.6,248.27 372.18,248.11 C372.76,247.95 373.34,247.79 373.93,247.64 C374.51,247.49 375.09,247.35 375.67,247.2 C376.25,247.06 376.84,246.92 377.42,246.79 C378,246.65 378.58,246.52 379.16,246.39 C379.74,246.27 380.33,246.14 380.91,246.02 C381.49,245.89 382.07,245.77 382.65,245.65 C383.24,245.54 384.11,245.36 384.4,245.3" fill="none" stroke="#555" stroke-width="1.3" stroke-linejoin="round" stroke-linecap="round" />
<line x1="384.4" y1="240.5" x2="384.4" y2="245.3" stroke="#777" stroke-width="0.8"/>
<path d="M384.4,245.2 C385.58,245.2 388.38,244.97 391.5,245.2 C394.62,245.43 399.25,246.13 403.1,246.6 C406.95,247.07 410.75,247.57 414.6,248 C418.45,248.43 422.35,248.77 426.2,249.2 C430.05,249.63 433.07,250.05 437.7,250.6 C442.33,251.15 448.55,251.85 454,252.5 C459.45,253.15 465.77,253.98 470.4,254.5 C475.03,255.02 479.9,255.42 481.8,255.6" fill="none" stroke="#999" stroke-width="1" stroke-linejoin="round" stroke-linecap="round" stroke-dasharray="2 1"/>
<path d="M384.4,245.4 C385.58,245.45 388.38,245.38 391.5,245.7 C394.62,246.02 399.25,246.78 403.1,247.3 C406.95,247.82 410.75,248.35 414.6,248.8 C418.45,249.25 422.35,249.57 426.2,250 C430.05,250.43 433.07,250.87 437.7,251.4 C442.33,251.93 448.55,252.57 454,253.2 C459.45,253.83 465.77,254.67 470.4,255.2 C475.03,255.73 479.9,256.2 481.8,256.4" fill="none" stroke="#555" stroke-width="1" stroke-linejoin="round" stroke-linecap="round" />
<path d="M384.4,245.6 C385.58,245.7 388.38,245.83 391.5,246.2 C394.62,246.57 399.25,247.28 403.1,247.8 C406.95,248.32 410.75,248.83 414.6,249.3 C418.45,249.77 422.35,250.15 426.2,250.6 C430.05,251.05 433.07,251.45 437.7,252 C442.33,252.55 448.55,253.23 454,253.9 C459.45,254.57 465.77,255.45 470.4,256 C475.03,256.55 479.9,257 481.8,257.2" fill="none" stroke="#555" stroke-width="1" stroke-linejoin="round" stroke-linecap="round" />
<polygon points="487.06,244.54 482.45,249.38 488.59,250.68" fill="#111"/>
<text x="489.38" y="245.26" font-size="9.4" font-weight="normal" fill="#888" textLength="29.61" lengthAdjust="spacingAndGlyphs" stroke="#888" stroke-width="0.2">M239V</text>
<polygon points="485.64,252.22 481.75,256.82 488.71,257.06" fill="#111"/>
<text x="490.18" y="262.36" font-size="9.4" font-weight="normal" fill="#111" textLength="29.31" lengthAdjust="spacingAndGlyphs" stroke="#111" stroke-width="0.2">G233V</text>
<polygon points="486.37,260.98 480.59,263.58 486.84,266.64" fill="#111"/>
<text x="493.11" y="278.75" font-size="9.4" font-weight="normal" fill="#111" textLength="13.54" lengthAdjust="spacingAndGlyphs" stroke="#111" stroke-width="0.2">WT</text>
</g>
</svg></body></html>
